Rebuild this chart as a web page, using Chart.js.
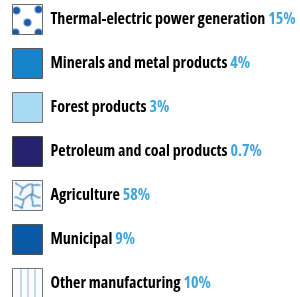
<!DOCTYPE html>
<html>
<head>
<meta charset="utf-8">
<script src="https://cdn.jsdelivr.net/npm/chart.js@4/dist/chart.umd.min.js"></script>
<style>
  html, body { margin: 0; padding: 0; background: #fff; }
  #wrap { width: 300px; height: 297px; }
</style>
</head>
<body>
<div id="wrap"><canvas id="chart"></canvas></div>
<script>
const categories = [
  "Thermal-electric power generation",
  "Minerals and metal products",
  "Forest products",
  "Petroleum and coal products",
  "Agriculture",
  "Municipal",
  "Other manufacturing"
]
const shares = [15, 4, 3, 0.7, 58, 9, 10]
const shareLabels = ["15%", "4%", "3%", "0.7%", "58%", "9%", "10%"]

const BOX = 30
// condensed face, Open Sans has one installed
const FONT = { family: "'Open Sans', sans-serif", size: 16, weight: "bold condensed" }

function tile(draw) {
  const c = document.createElement("canvas")
  c.width = BOX
  c.height = BOX
  const g = c.getContext("2d")
  draw(g)
  return c
}

function solid(color) {
  return tile(g => { g.fillStyle = color; g.fillRect(0, 0, BOX, BOX) })
}

const tiles = [
  tile(g => {
    g.fillStyle = "#fff"
    g.fillRect(0, 0, BOX, BOX)
    g.fillStyle = "#1a5aa8"
    ;[[4, 6], [26, 5], [15, 18], [3, 28], [26, 28]].forEach(([x, y]) => {
      g.beginPath(); g.arc(x, y, 3.8, 0, Math.PI * 2); g.fill()
    })
  }),
  solid("#1584cb"),
  solid("#a6dbf4"),
  solid("#25236e"),
  tile(g => {
    g.fillStyle = "#f2f8fd"
    g.fillRect(0, 0, BOX, BOX)
    g.strokeStyle = "#3f80ba"
    g.lineWidth = 1.3
    g.beginPath()
    g.moveTo(3, 2); g.bezierCurveTo(4, 6, 9, 4, 10, 8); g.bezierCurveTo(11, 11, 6, 12, 8, 15)
    g.moveTo(10, 8); g.bezierCurveTo(14, 6, 16, 2, 20, 4); g.bezierCurveTo(23, 6, 25, 3, 28, 5)
    g.moveTo(20, 4); g.bezierCurveTo(19, 8, 22, 11, 19, 14)
    g.moveTo(2, 17); g.bezierCurveTo(5, 15, 7, 20, 11, 19); g.bezierCurveTo(14, 18, 15, 14, 19, 14); g.bezierCurveTo(23, 14, 24, 18, 28, 17)
    g.moveTo(11, 19); g.bezierCurveTo(12, 23, 8, 25, 10, 28)
    g.moveTo(2, 25); g.bezierCurveTo(5, 23, 7, 27, 10, 28)
    g.moveTo(19, 14); g.bezierCurveTo(18, 19, 22, 21, 20, 25); g.bezierCurveTo(23, 27, 26, 23, 28, 26)
    g.stroke()
  }),
  solid("#0b5aa8"),
  tile(g => {
    g.fillStyle = "#fafcff"
    g.fillRect(0, 0, BOX, BOX)
    g.strokeStyle = "#8bb8e0"
    g.lineWidth = 1
    g.beginPath()
    ;[8.5, 15.5, 22.5].forEach(x => { g.moveTo(x, 0); g.lineTo(x, BOX) })
    g.stroke()
  })
]
const borders = ["#6a6a6a", "#555a60", "#6f7478", "#444", "#6f7478", "#4a5560", "#6f7478"]

const ctx = document.getElementById("chart")
const patterns = tiles.map(t => ctx.getContext("2d").createPattern(t, "no-repeat"))

// legend swatches use patterns; pin each pattern to its box, then add the blue shares
const swatchPlugin = {
  id: "swatches",
  beforeDraw(chart) {
    chart.legend.legendHitBoxes.forEach((hb, i) => {
      patterns[i].setTransform(new DOMMatrix([1, 0, 0, 1, hb.left, hb.top]))
    })
  },
  afterDraw(chart) {
    const c = chart.ctx
    const lg = chart.legend
    c.save()
    c.font = `${FONT.weight} ${FONT.size}px ${FONT.family}`
    c.textBaseline = "middle"
    c.textAlign = "left"
    c.fillStyle = "#3fa6dc"
    lg.legendHitBoxes.forEach((hb, i) => {
      const x = hb.left + BOX + FONT.size / 2 + c.measureText(categories[i] + " ").width
      c.fillText(shareLabels[i], x, hb.top + BOX / 2)
    })
    c.restore()
  }
}

new Chart(ctx, {
  type: "doughnut",
  data: {
    labels: categories,
    datasets: [{
      data: shares,
      backgroundColor: "transparent",
      borderWidth: 0,
      radius: 0
    }]
  },
  options: {
    responsive: true,
    maintainAspectRatio: false,
    animation: false,
    layout: { padding: { left: -1.5, top: -9.5, right: 0, bottom: -40 } },
    plugins: {
      tooltip: { enabled: false },
      legend: {
        position: "left",
        align: "start",
        maxWidth: 1000,
        labels: {
          boxWidth: BOX,
          boxHeight: BOX,
          padding: 14,
          color: "#333",
          font: FONT,
          generateLabels: () => categories.map((name, i) => ({
            text: name,
            fillStyle: patterns[i],
            strokeStyle: borders[i],
            lineWidth: 1,
            hidden: false,
            index: i
          }))
        }
      }
    }
  },
  plugins: [swatchPlugin]
})
</script>
</body>
</html>
